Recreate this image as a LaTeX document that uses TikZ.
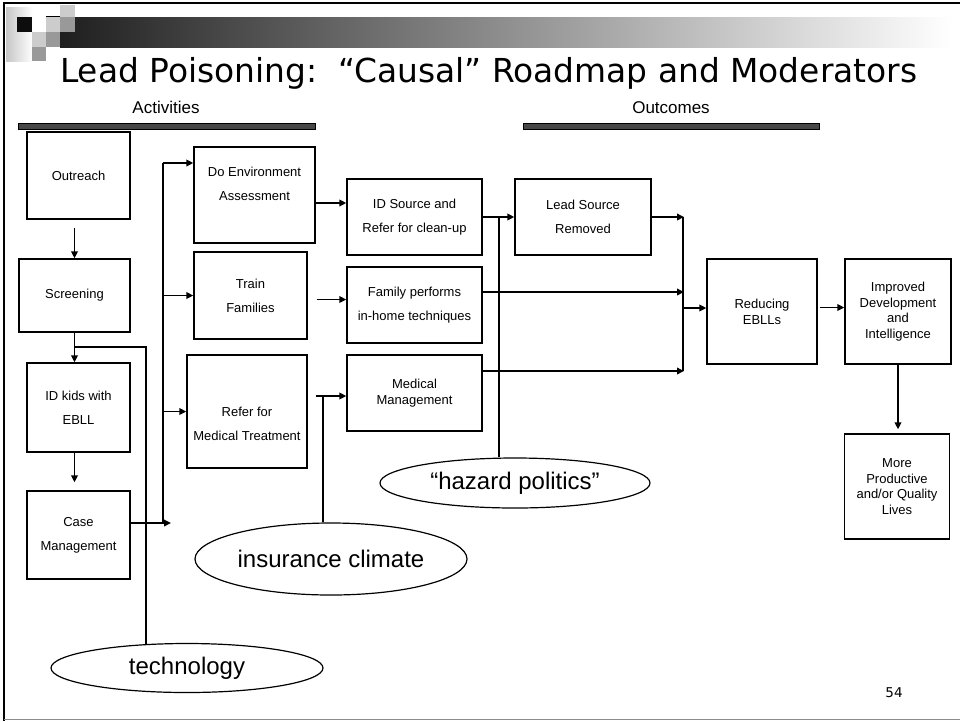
\documentclass[tikz,border=0pt]{standalone}
\usepackage{graphicx}
\usepackage{fontspec}
\setmainfont{Liberation Sans}
\newfontfamily\slidefont{DejaVu Sans}
\usetikzlibrary{arrows.meta,shapes.geometric,calc}

\begin{document}
\begin{tikzpicture}[x=1pt,y=-1pt,
  box/.style={draw, line width=1.3pt, inner sep=0pt},
  btxt/.style={align=center, font=\fontsize{13}{24}\selectfont},
  btxtn/.style={align=center, font=\fontsize{13}{15.7}\selectfont},
  conn/.style={line width=1.9pt},
  arr/.style={conn, -{Triangle[length=7pt,width=6.5pt]}},
  moder/.style={draw, ellipse, line width=1.2pt, inner sep=0pt,
                font=\fontsize{24}{28}\selectfont},
  headbar/.style={draw=black, fill=black!72, line width=1pt},
  headlbl/.style={anchor=base, inner sep=0pt, font=\fontsize{17}{20}\selectfont},
]
\useasboundingbox (0,0) rectangle (960,721);
\fill[white] (0,0) rectangle (960,721);

% slide header: gradient band and pixel squares
\shade[left color=black!22, right color=white] (6,7) rectangle (33,61);
\shade[left color=black!88, right color=white] (60,17) rectangle (952,47);
\fill[black!95] (17,17) rectangle (32,32);
\fill[black!20] (46,17) rectangle (60,32);
\fill[black!20] (60,5) rectangle (75,17);
\fill[black!40] (60,17) rectangle (75,32);
\fill[black!20] (32,32) rectangle (46,47);
\fill[black!40] (46,32) rectangle (60,47);
\fill[black!40] (32,47) rectangle (46,61);
\draw[line width=0.6pt] (46,16.7) -- (60,16.7);

% slide frame
\draw[line width=2pt] (4,721) -- (4,3) -- (960,3);
\draw[black!45, line width=1.5pt] (4,719.5) -- (960,719.5);

% title
\node[anchor=base west, inner sep=0pt] (title) at (60,82)
  {\resizebox{857pt}{\height}{\slidefont\fontsize{33}{40}\selectfont Lead Poisoning:\ \ “Causal”\ Roadmap and Moderators}};

% column headings
\node[headlbl] (activities) at (166,113) {Activities};
\node[headlbl] (outcomes) at (671,113) {Outcomes};
\draw[headbar] (18,123) rectangle (315,129);
\draw[headbar] (523,123) rectangle (819,129);

% activity chain
\node[box, minimum width=103pt, minimum height=87pt, btxt] (outreach) at (78.5,175.5) {Outreach};
\node[box, minimum width=111pt, minimum height=73pt, btxt] (screening) at (74.5,295.5) {Screening};
\node[box, minimum width=103pt, minimum height=89pt, btxt] (idkids) at (78.5,407.5) {ID kids with\\EBLL};
\node[box, minimum width=103pt, minimum height=88pt, btxt] (casemgmt) at (78.5,535) {Case\\Management};

% interventions
\node[box, minimum width=121pt, minimum height=96pt] (envassess) at (254.5,195) {};
\node[btxt] (envassess-t) at (254.5,183.5) {Do Environment\\Assessment};
\node[box, minimum width=113pt, minimum height=87pt, btxt] (train) at (250.5,295.5) {Train\\Families};
\node[box, minimum width=120pt, minimum height=113pt] (refermed) at (247,411.5) {};
\node[btxt] (refermed-t) at (247,423.5) {Refer for\\Medical Treatment};

% intermediate outcomes
\node[box, minimum width=135pt, minimum height=76pt, btxt] (idsource) at (414.5,217) {ID Source and\\Refer for clean-up};
\node[box, minimum width=135pt, minimum height=76pt, btxt] (famperf) at (414.5,305) {Family performs\\in-home techniques};
\node[box, minimum width=135pt, minimum height=76pt, btxtn] (medmgmt) at (414.5,393) {Medical\\Management};
\node[box, minimum width=136pt, minimum height=76pt, btxt] (leadrem) at (583,217) {Lead Source\\Removed};

% final outcomes
\node[box, minimum width=110pt, minimum height=105pt, btxtn] (reducing) at (762,311.5) {Reducing\\EBLLs};
\node[box, minimum width=106pt, minimum height=105pt, btxtn] (improved) at (898,311.5) {Improved\\Development\\and\\Intelligence};
\node[box, minimum width=105pt, minimum height=105pt, btxtn] (moreprod) at (897,486.5) {More\\Productive\\and/or Quality\\Lives};

% moderators
\node[moder, minimum width=272pt, minimum height=49pt] (tech) at (187,668) {technology};
\node[moder, minimum width=272pt, minimum height=72pt] (insur) at (331,559) {insurance climate};
\node[moder, minimum width=270pt, minimum height=50pt] (hazard) at (515,483) {“hazard politics”};

% page number
\node[anchor=base, inner sep=0pt, font=\slidefont\fontsize{13.5}{16}\selectfont] (pagenum) at (894,697) {54};

% junction points
\coordinate (scrjoin) at (74.5,347);
\coordinate (busTop) at (163,163);
\coordinate (busBot) at (163,523);
\coordinate (casetip) at (171,523);
\coordinate (insjoin) at (323,396);
\coordinate (hazjoin) at (499,217);
\coordinate (jx) at (683,0);

% activity chain arrows
\draw[arr, shorten <=8pt] (outreach.south -| screening.center) -- (screening.north);
\draw[arr] (screening.south) -- (screening.south |- idkids.north);
\draw[arr, shorten >=8pt] (idkids.south -| screening.center) -- (screening.center |- casemgmt.north);
\draw[conn] (tech.150) |- (scrjoin);

% distribution bus to the interventions
\draw[conn] (busTop) -- (busBot);
\draw[arr] (busTop) -- (busTop -| envassess.west);
\draw[arr] (train.west -| busTop) -- (train.west);
\draw[arr] (refermed.west -| busTop) -- (refermed.west);
\draw[arr] (busBot -| casemgmt.east) -- (casetip);

% interventions to intermediate outcomes
\draw[arr] ([yshift=-8pt]envassess.east) -- ([yshift=-8pt]envassess.east -| idsource.west);
\draw[arr, shorten <=9pt] ([yshift=-4pt]train.east) -- ([yshift=-4pt]train.east -| famperf.west);
\draw[arr, shorten <=8pt] (refermed.east |- insjoin) -- (insjoin -| medmgmt.west);
\draw[conn] (insjoin) -- (insjoin |- insur.north);
\draw[arr] (idsource.east) -- (leadrem.west);
\draw[conn] (hazjoin) -- (hazjoin |- hazard.north);

% merge into reducing EBLLs
\draw[conn] (jx |- leadrem.east) -- (jx |- 0,371);
\draw[arr] (leadrem.east) -- ($(jx |- leadrem.east)+(1,0)$);
\draw[arr] ([yshift=13pt]famperf.east) -- ($(jx |- 0,292)+(1,0)$);
\draw[arr] ([yshift=22pt]medmgmt.east) -- ($(jx |- 0,371)+(1,0)$);
\draw[arr] (jx |- 0,308) -- (reducing.west |- 0,308);
\draw[arr] ([xshift=2pt,yshift=4pt]reducing.east) -- ([yshift=4pt]reducing.east -| improved.west);
\draw[arr, shorten >=4pt] (improved.south) -- (improved.south |- moreprod.north);
\end{tikzpicture}
\end{document}
